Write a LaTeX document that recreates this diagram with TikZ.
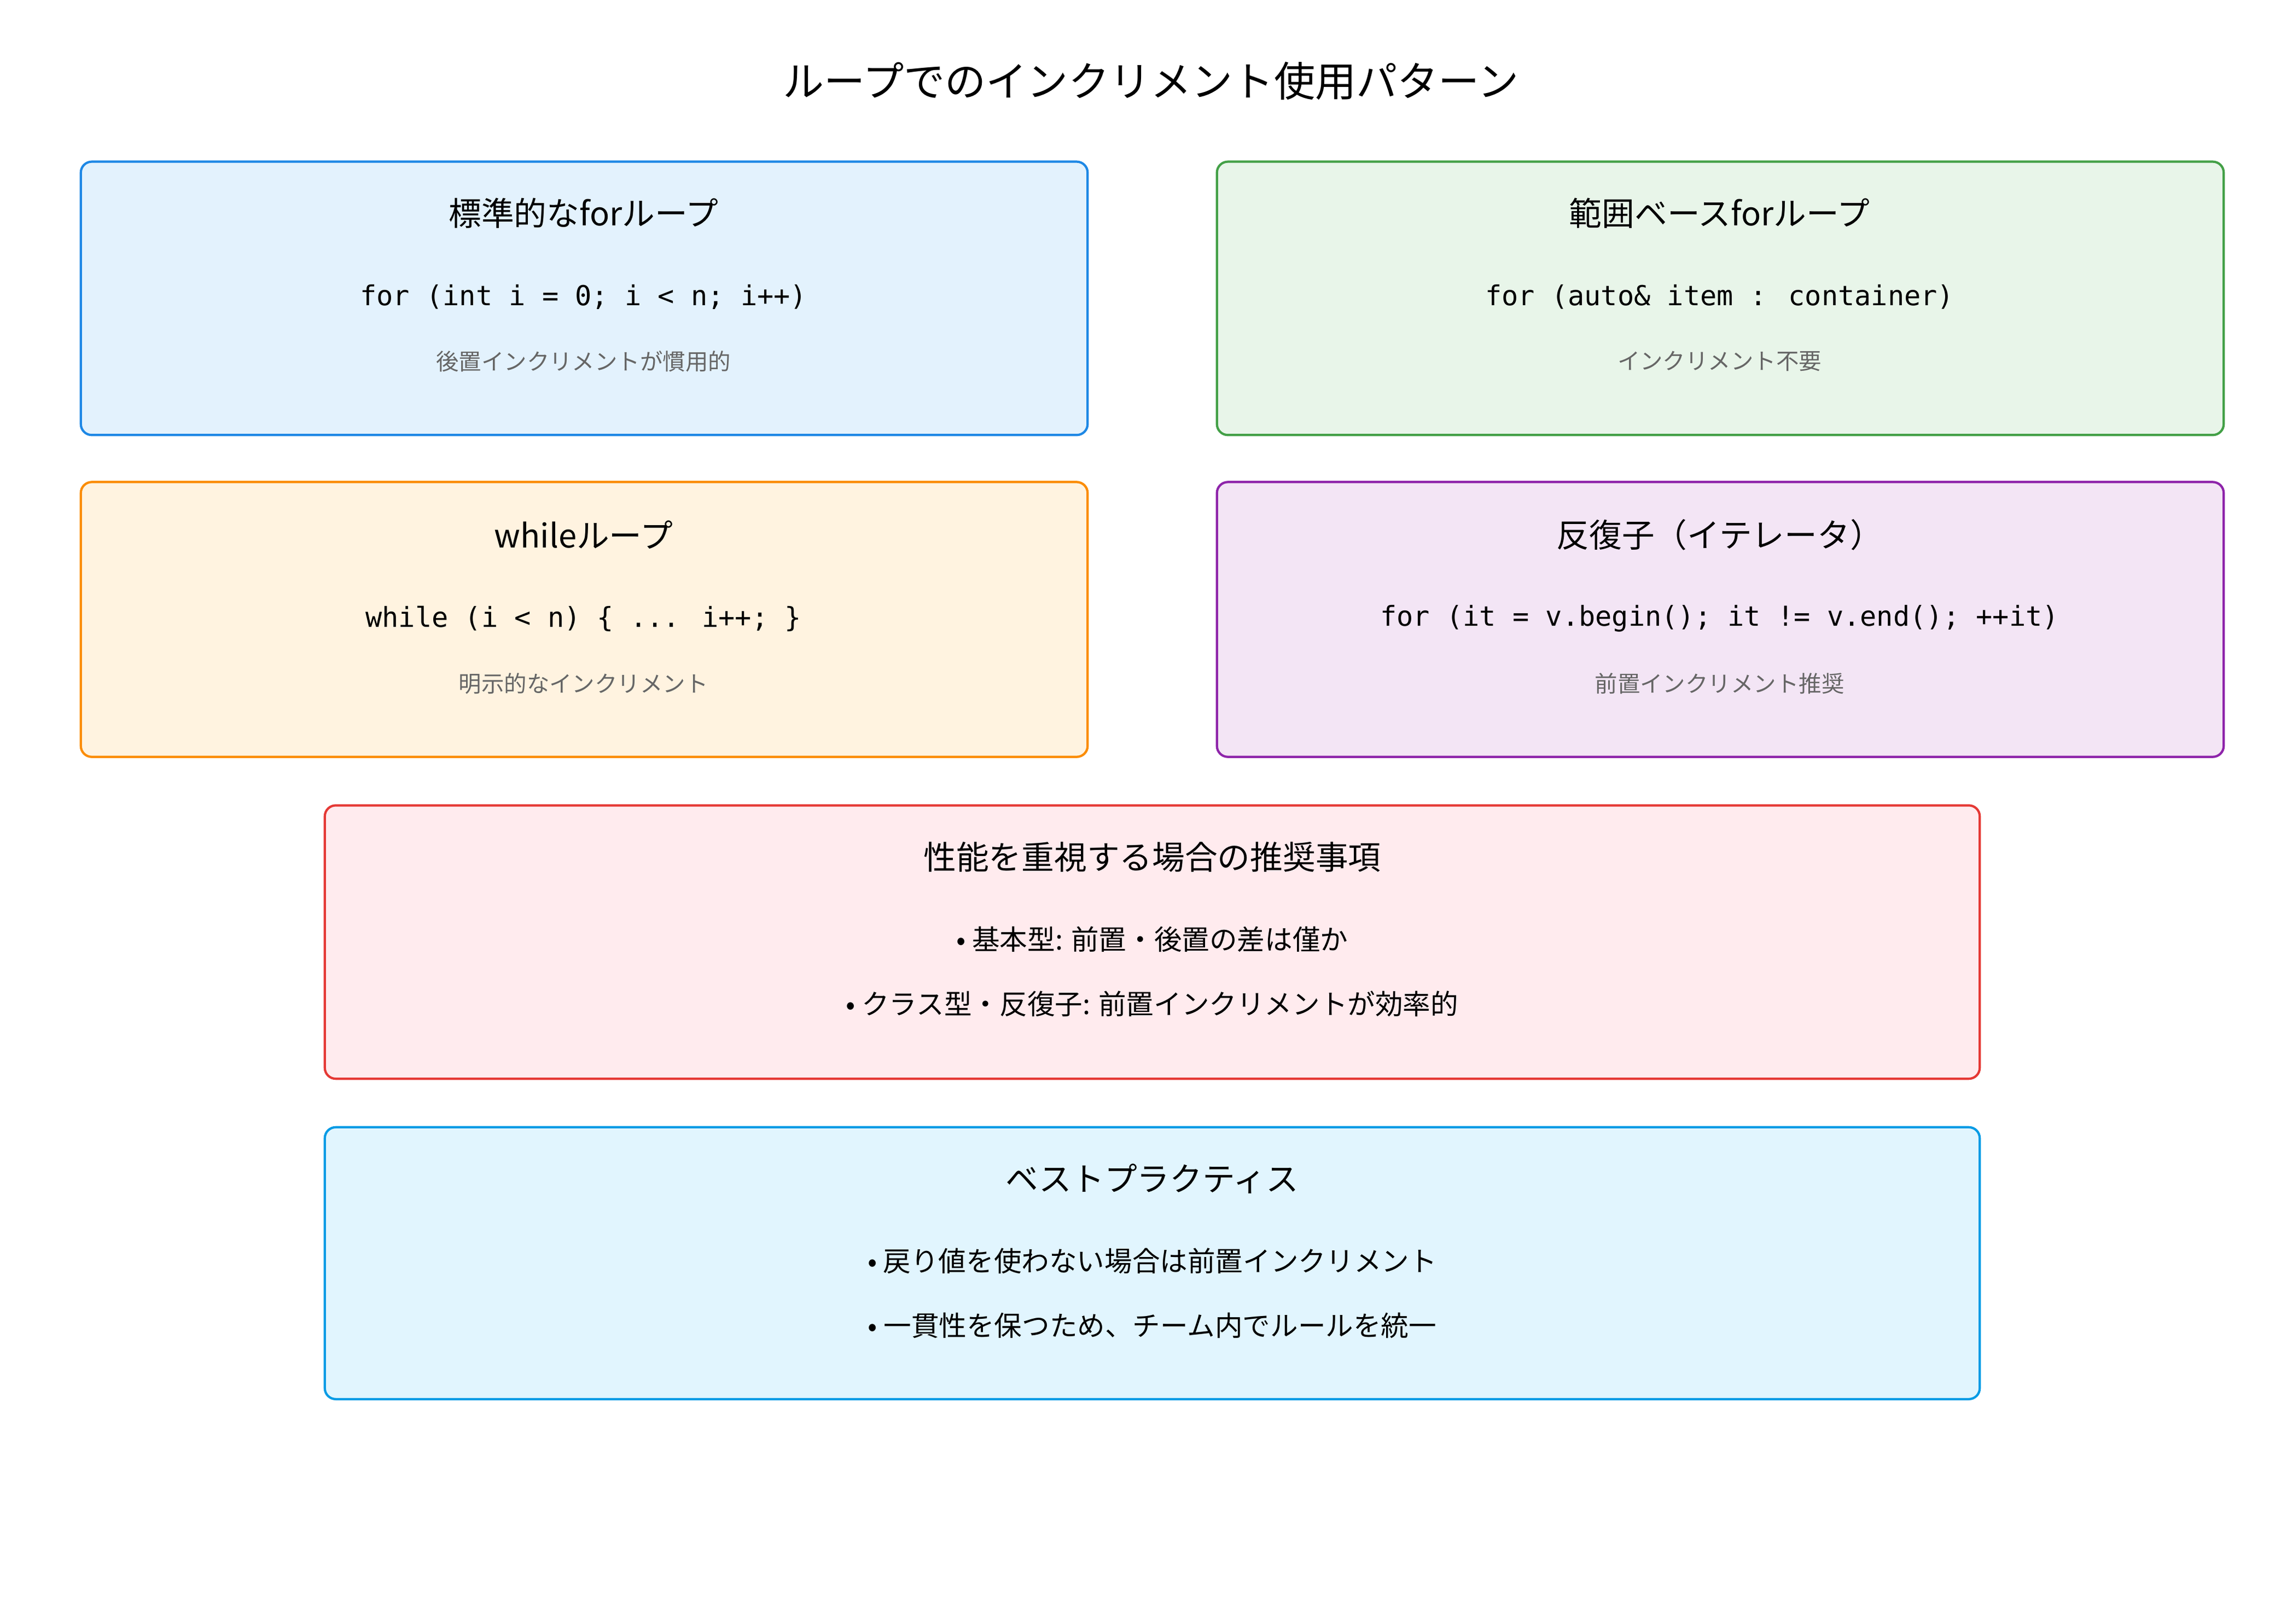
\documentclass[tikz,border=0pt]{standalone}
\usepackage{fontspec}
\setmainfont{Noto Sans CJK JP}
\newfontfamily\codefont{DejaVu Sans Mono}
\definecolor{b1f}{HTML}{E3F2FD}\definecolor{b1d}{HTML}{1E88E5}
\definecolor{b2f}{HTML}{E8F5E9}\definecolor{b2d}{HTML}{43A047}
\definecolor{b3f}{HTML}{FFF3E0}\definecolor{b3d}{HTML}{FB8C00}
\definecolor{b4f}{HTML}{F3E5F5}\definecolor{b4d}{HTML}{8E24AA}
\definecolor{b5f}{HTML}{FFEBEE}\definecolor{b5d}{HTML}{E53935}
\definecolor{b6f}{HTML}{E1F5FE}\definecolor{b6d}{HTML}{039BE5}
\definecolor{note}{HTML}{666666}
\tikzset{
 box/.style={rounded corners=0.2cm,line width=1.2pt},
 ttl/.style={font=\fontsize{17}{20}\selectfont,anchor=center},
 code/.style={font=\codefont\fontsize{14.3}{17}\selectfont,anchor=center},
 nt/.style={font=\fontsize{11.8}{14}\selectfont,text=note,anchor=center},
 bul/.style={font=\fontsize{14.4}{17}\selectfont,anchor=center}
}
\begin{document}
\begin{tikzpicture}[x=0.02687cm,y=-0.02687cm]
\useasboundingbox (0,0) rectangle (1552,1105);
\node[font=\fontsize{21.4}{25}\selectfont] (title) at (783,55) {ループでのインクリメント使用パターン};
\draw[box,fill=b1f,draw=b1d] (55,110) rectangle (740,296);
\node[ttl] (t1) at (397,145) {標準的なforループ};
\node[code] (c1) at (397,202) {for (int i = 0; i < n; i++)};
\node[nt] (n1) at (397,246) {後置インクリメントが慣用的};
\draw[box,fill=b2f,draw=b2d] (828,110) rectangle (1513,296);
\node[ttl] (t2) at (1170,145) {範囲ベースforループ};
\node[code] (c2) at (1170,202) {for (auto\& item : container)};
\node[nt] (n2) at (1170,246) {インクリメント不要};
\draw[box,fill=b3f,draw=b3d] (55,328) rectangle (740,515);
\node[ttl] (t3) at (397,364) {whileループ};
\node[code] (c3) at (397,421) {while (i < n) \{ ... i++; \}};
\node[nt] (n3) at (397,465) {明示的なインクリメント};
\draw[box,fill=b4f,draw=b4d] (828,328) rectangle (1513,515);
\node[ttl] (t4) at (1170,364) {反復子（イテレータ）};
\node[code] (c4) at (1170,421) {for (it = v.begin(); it != v.end(); ++it)};
\node[nt] (n4) at (1170,465) {前置インクリメント推奨};
\draw[box,fill=b5f,draw=b5d] (221,548) rectangle (1347,734);
\node[ttl] (t5) at (784,583) {性能を重視する場合の推奨事項};
\node[bul] (p1) at (784,639) {• 基本型: 前置・後置の差は僅か};
\node[bul] (p2) at (784,683) {• クラス型・反復子: 前置インクリメントが効率的};
\draw[box,fill=b6f,draw=b6d] (221,767) rectangle (1347,952);
\node[ttl] (t6) at (784,802) {ベストプラクティス};
\node[bul] (q1) at (784,858) {• 戻り値を使わない場合は前置インクリメント};
\node[bul] (q2) at (784,902) {• 一貫性を保つため、チーム内でルールを統一};
\end{tikzpicture}
\end{document}
